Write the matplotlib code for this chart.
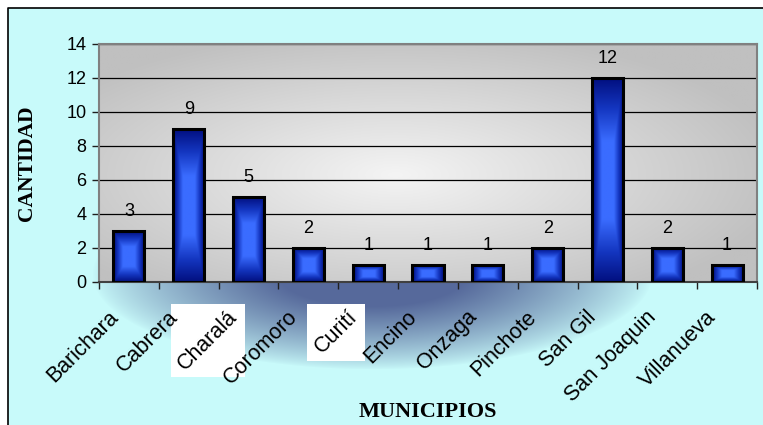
import numpy as np
import matplotlib
matplotlib.use('Agg')
import matplotlib.pyplot as plt
from matplotlib.colors import LinearSegmentedColormap, to_rgb
from matplotlib.patches import Rectangle
from matplotlib.transforms import ScaledTranslation


# ------------------------- data -------------------------------
municipios = ['Barichara', 'Cabrera', 'Charalá', 'Coromoro', 'Curití', 'Encino',
              'Onzaga', 'Pinchote', 'San Gil', 'San Joaquin', 'Villanueva']
cantidad = [3, 9, 5, 2, 1, 1, 1, 2, 12, 2, 1]
boxed = ['Charalá', 'Curití']
yticks = [0, 2, 4, 6, 8, 10, 12, 14]

W, H = 763, 425
fig = plt.figure(figsize=(W / 100, H / 100), dpi=100)
fig.patch.set_facecolor('white')

# ------------------- chart background -------------------------
bg = fig.add_axes([0, 0, 1, 1], zorder=-3)
bg.set_axis_off()
yy, xx = np.mgrid[0:H, 0:W]
cyan = np.array(to_rgb('#c8fafa'))
dark = np.array(to_rgb('#56699b'))
r = np.sqrt(((xx - 372) / 280.0) ** 2 + ((yy - 274) / 95.0) ** 2)
glow = np.clip(1.5 * (1 - r), 0, 1) ** 0.8
img = cyan[None, None, :] * (1 - glow[..., None]) + dark[None, None, :] * glow[..., None]
img[:8, :, :] = 1.0
img[:, :8, :] = 1.0
bg.imshow(img, extent=[0, W, H, 0], aspect='auto', interpolation='bilinear')
bg.plot([8, 8, W + 5], [H + 5, 8, 8], color='black', lw=1.2)
bg.set_xlim(0, W)
bg.set_ylim(H, 0)

# ---------------------- plot area ----------------------------
ax = fig.add_axes([99 / W, (H - 282) / H, (757 - 99) / W, (282 - 44) / H])
ax.set_facecolor('none')
ax.set_xlim(-0.5, len(municipios) - 0.5)
ax.set_ylim(0, 14)

# gray gradient of plot area
gy, gx = np.mgrid[0:1:200j, 0:1:400j]
rr = np.sqrt(((gx - 0.45) / 0.6) ** 2 + ((gy - 0.45) / 0.62) ** 2)
shade = np.clip(rr, 0, 1)
light = np.array(to_rgb('#f4f4f4'))
gray = np.array(to_rgb('#c0c0c0'))
pimg = light * (1 - shade[..., None]) + gray * shade[..., None]
ax.imshow(pimg, extent=[-0.5, len(municipios) - 0.5, 0, 14], aspect='auto',
          zorder=0, origin='lower', interpolation='bilinear')

ax.set_yticks(yticks)
ax.yaxis.grid(True, color='black', lw=0.9)
ax.set_axisbelow(True)
for ln in ax.get_ygridlines():
    ln.set_zorder(0.5)

# bars with blue pyramid gradient
bars = ax.bar(range(len(municipios)), cantidad, width=0.52, facecolor='none',
              edgecolor='black', linewidth=2.2, zorder=3)
bar_cmap = LinearSegmentedColormap.from_list('barblue', ['#000c7a', '#1436c0', '#3a6cff'])
for b in bars:
    x0, y0 = b.get_x(), b.get_y()
    bw, bh = b.get_width(), b.get_height()
    v, u = np.mgrid[-1:1:120j, -1:1:60j]
    t = 1 - np.maximum(np.abs(u), np.abs(v) * 0.97)
    t = np.clip(t * 1.6, 0, 1)
    im = ax.imshow(t, extent=[x0, x0 + bw, y0, y0 + bh], cmap=bar_cmap, vmin=0, vmax=1,
                   aspect='auto', zorder=2, origin='lower', interpolation='bilinear')
    im.set_clip_path(b)

ax.bar_label(bars, padding=8, fontsize=13, family='Liberation Sans')

# ticks
ax.set_xticks(np.arange(len(municipios)))
ax.set_xticks(np.arange(-0.5, len(municipios)), minor=True)
ax.set_xticklabels(municipios, rotation=45, ha='right', va='center',
                   rotation_mode='anchor', fontsize=15.5, family='Liberation Sans')
ax.tick_params(axis='x', which='major', length=0, pad=23)
ax.tick_params(axis='x', which='minor', length=5, width=1, direction='out', color='#202020')
ax.tick_params(axis='y', length=5, width=1, direction='out', color='#202020',
               labelsize=13, pad=4)
for lab in ax.get_yticklabels():
    lab.set_family('Liberation Sans')
offset = ScaledTranslation(-0.14, 0, fig.dpi_scale_trans)
for lab in ax.get_xticklabels():
    lab.set_transform(lab.get_transform() + offset)

for side in ['top', 'right', 'left']:
    ax.spines[side].set_color('#808080')
    ax.spines[side].set_linewidth(1.5)
ax.spines['bottom'].set_color('#404040')
ax.spines['bottom'].set_linewidth(1.5)

ax.set_ylabel('CANTIDAD', family='Liberation Serif', fontweight='bold', fontsize=15.5)
ax.set_xlabel('MUNICIPIOS', family='Liberation Serif', fontweight='bold', fontsize=16)
ax.xaxis.set_label_coords(0.5, -0.505)
ax.yaxis.set_label_coords((37 - 99) / (757 - 99), 0.5)

# white boxes behind some labels
fig.canvas.draw()
for lab in ax.get_xticklabels():
    if lab.get_text() in boxed:
        bb = lab.get_window_extent()
        fig.patches.append(Rectangle((bb.x0 - 3, bb.y0 - 3), bb.width + 6, bb.height + 6,
                                     transform=None, facecolor='white',
                                     edgecolor='none', zorder=-1, figure=fig))

fig.savefig('out.png', dpi=100)
